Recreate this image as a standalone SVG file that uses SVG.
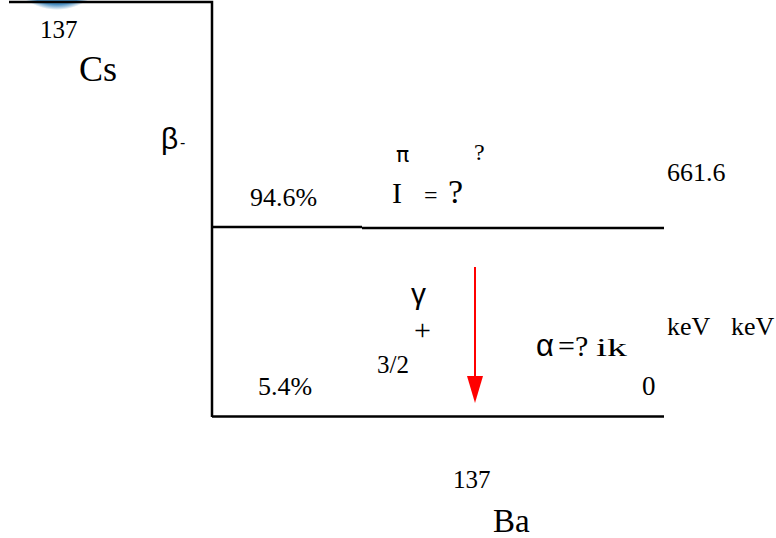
<svg xmlns="http://www.w3.org/2000/svg" width="776" height="538" viewBox="0 0 776 538">
<style>
.ln{stroke:#000;stroke-width:2.5;fill:none}
text{fill:#000}
</style>
<defs>
<radialGradient id="blob" cx="0.5" cy="0.5" r="0.5">
<stop offset="0.9" stop-color="#4a8fc2"/>
<stop offset="1" stop-color="#4a8fc2" stop-opacity="0"/>
</radialGradient>
</defs>
<circle cx="57" cy="-45" r="55" fill="url(#blob)"/>
<g id="connectors">
<path class="ln" d="M9,2 H212 V417"/>
<path class="ln" d="M212,227 H362"/>
<path class="ln" d="M362,228 H664"/>
<path class="ln" d="M212,416.5 H664"/>
<line x1="475" y1="267" x2="475" y2="376" stroke="#ff0000" stroke-width="2"/>
<path d="M467,376 L483,376 L475,403 Z" fill="#ff0000"/>
</g>
<g id="cs" font-family="'Liberation Serif', 'Times New Roman', serif">
<text x="40" y="38" font-size="25">137</text>
<text x="79" y="81" font-size="36">Cs</text>
</g>
<g id="beta">
<text x="161" y="149" font-size="30" font-family="'Liberation Sans', Arial, sans-serif">β</text>
<text x="180" y="148" font-size="16" font-family="'Liberation Sans', Arial, sans-serif">-</text>
<text x="250" y="206" font-size="26" font-family="'Liberation Serif', 'Times New Roman', serif">94.6%</text>
</g>
<g id="level1" font-family="'Liberation Serif', 'Times New Roman', serif">
<text x="396" y="162" font-size="22" font-family="'DejaVu Sans', sans-serif">π</text>
<text x="474" y="160" font-size="24">?</text>
<text x="392" y="203" font-size="30">I</text>
<text x="424" y="203" font-size="24">=</text>
<text x="448" y="203" font-size="34">?</text>
<text x="667" y="181" font-size="26">661.6</text>
<text x="667" y="335" font-size="26">keV</text>
<text x="731" y="335" font-size="26">keV</text>
</g>
<g id="gamma" font-family="'Liberation Serif', 'Times New Roman', serif">
<text x="411" y="304" font-size="30" font-family="'Liberation Sans', Arial, sans-serif">γ</text>
<text x="414" y="340" font-size="30">+</text>
<text x="377" y="373" font-size="25">3/2</text>
<text x="536" y="356" font-size="31" font-family="'Liberation Sans', Arial, sans-serif">α</text>
<text x="558" y="356" font-size="30">=?</text>
<text x="596" y="356" font-size="26" textLength="31" lengthAdjust="spacingAndGlyphs">ik</text>
</g>
<g id="level0" font-family="'Liberation Serif', 'Times New Roman', serif">
<text x="258" y="395" font-size="26">5.4%</text>
<text x="642" y="395" font-size="27">0</text>
</g>
<g id="ba" font-family="'Liberation Serif', 'Times New Roman', serif">
<text x="453" y="488" font-size="25">137</text>
<text x="493" y="532" font-size="33">Ba</text>
</g>
</svg>
